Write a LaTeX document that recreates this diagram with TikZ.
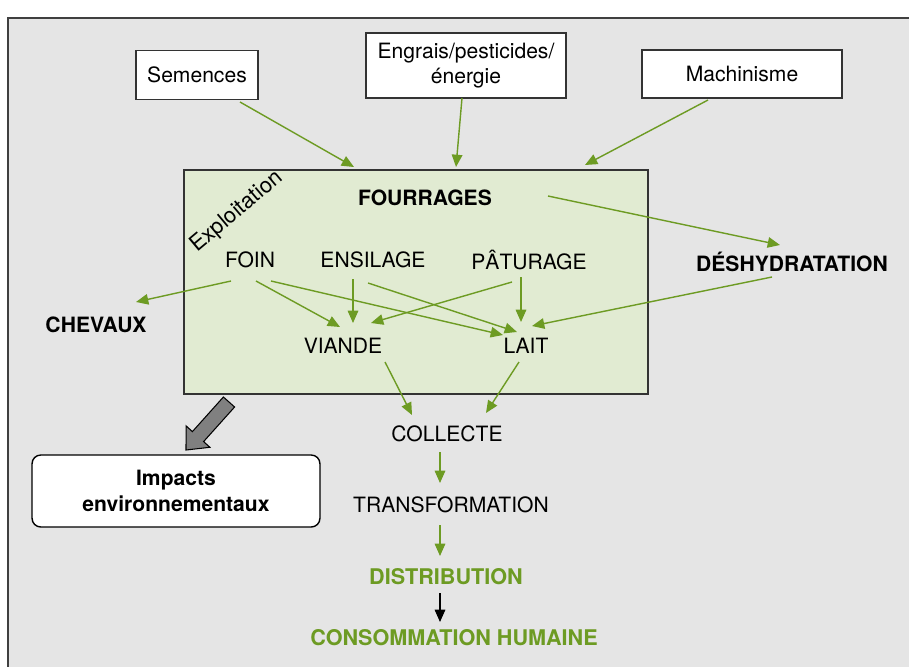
\documentclass[tikz,border=0pt,12pt]{standalone}
\usepackage{fontspec}
\setmainfont{TeX Gyre Heros}
\usetikzlibrary{arrows.meta}

\definecolor{leafgreen}{RGB}{109,155,35}
\definecolor{farmfill}{RGB}{225,235,210}
\definecolor{panelgray}{RGB}{229,229,229}

\tikzstyle{flow} = [leafgreen, line width=0.8pt, -{Triangle[length=7pt,width=6pt]}]
\tikzstyle{input} = [draw=black!80, fill=white, line width=0.8pt, align=center]
\tikzstyle{lbl} = [inner sep=0pt]
\tikzstyle{stage} = [lbl, leafgreen, font=\fontsize{12.3}{15}\selectfont\bfseries]

\begin{document}
\begin{tikzpicture}[x=0.02cm, y=-0.02cm]
                \useasboundingbox (0,0) rectangle (909,666);
                % grey panel behind everything
                \draw[draw=black!75, fill=panelgray, line width=1pt] (8,18) rectangle (940,700);

                % the three inputs
                \node[input, minimum width=2.44cm, minimum height=0.98cm] (sem) at (197,75) {Semences};
                \node[input, minimum width=4cm, minimum height=1.3cm] (eng) at (466,65.5) {Engrais/pesticides/\\énergie};
                \node[input, minimum width=4cm, minimum height=0.96cm] (mach) at (742,74) {Machinisme};

                % the farm box
                \node[draw=black!80, fill=farmfill, line width=0.8pt,
                    minimum width=9.28cm,
                    minimum height=4.48cm] (expl) at (416,282) {};
                \node[lbl, rotate=40, font=\fontsize{12.5}{14}\selectfont] (expltitle) at (237,212) {Exploitation};

                % products
                \node[lbl, font=\bfseries] (four) at (425,198) {FOURRAGES};
                \node[lbl] (foin) at (250,260) {FOIN};
                \node[lbl] (ens) at (373,260) {ENSILAGE};
                \node[lbl] (pat) at (529,260) {PÂTURAGE};
                \node[lbl] (viande) at (343,346) {VIANDE};
                \node[lbl] (lait) at (526,346) {LAIT};
                \node[lbl, font=\bfseries] (desh) at (792,262) {DÉSHYDRATATION};
                \node[lbl, font=\bfseries] (chev) at (96,325) {CHEVAUX};

                % the chain below
                \node[lbl] (coll) at (447,434) {COLLECTE};
                \node[lbl] (transf) at (451,505) {TRANSFORMATION};
                \node[stage] (distr) at (446,577) {DISTRIBUTION};
                \node[stage] (conso) at (454,638) {CONSOMMATION HUMAINE};

                \node[draw=black, fill=white, line width=0.8pt, rounded corners=5pt,
                    minimum width=5.76cm,
                    minimum height=1.44cm, align=center, font=\bfseries] (impacts) at (176,491) {Impacts\\environnementaux};

                % Draw edges into the farm
                \draw[flow] ([shift={(43,27)}]sem.center) -- ([shift={(-62,-115)}]expl.center);
                \draw[flow] ([shift={(-4,32.5)}]eng.center) -- ([shift={(40,-115)}]expl.center);
                \draw[flow] ([shift={(-34,26)}]mach.center) -- ([shift={(169,-117)}]expl.center);

                % Draw edges inside the farm
                \draw[flow] ([shift={(123,-2)}]four.center) -- ([shift={(-12,-17)}]desh.center);
                \draw[flow] ([shift={(-19,21)}]foin.center) -- ([shift={(40,-23)}]chev.center);
                \draw[flow] ([shift={(6,21)}]foin.center) -- ([shift={(-3,-19)}]viande.center);
                \draw[flow] ([shift={(21,21)}]foin.center) -- ([shift={(-23,-11)}]lait.center);
                \draw[flow] ([shift={(-20,19)}]ens.center) -- ([shift={(10,-23)}]viande.center);
                \draw[flow] ([shift={(-5,23)}]ens.center) -- ([shift={(-9,-14)}]lait.center);
                \draw[flow] ([shift={(-17,22)}]pat.center) -- ([shift={(28,-23)}]viande.center);
                \draw[flow] ([shift={(-8,17)}]pat.center) -- ([shift={(-5,-24)}]lait.center);
                \draw[flow] ([shift={(-20,15)}]desh.center) -- ([shift={(6,-20)}]lait.center);

                % Draw edges down the chain
                \draw[flow] ([shift={(42,16)}]viande.center) -- ([shift={(-35,-19)}]coll.center);
                \draw[flow] ([shift={(-7,16)}]lait.center) -- ([shift={(39,-21)}]coll.center);
                \draw[flow] ([shift={(-7,18)}]coll.center) -- ([shift={(-11,-22)}]transf.center);
                \draw[flow] ([shift={(-11,20)}]transf.center) -- ([shift={(-6,-21)}]distr.center);
                \draw[flow, black] ([shift={(-6,16)}]distr.center) -- ([shift={(-14,-16)}]conso.center);

                % block arrow towards the impacts
                \draw[fill=gray, draw=black, line width=0.6pt] (223.4,397) -- (234.6,407) -- (203.6,441.6)
                    -- (209.9,447.3) -- (186,450) -- (186.1,425.9) -- (192.4,431.6) -- cycle;
        \end{tikzpicture}
\end{document}
